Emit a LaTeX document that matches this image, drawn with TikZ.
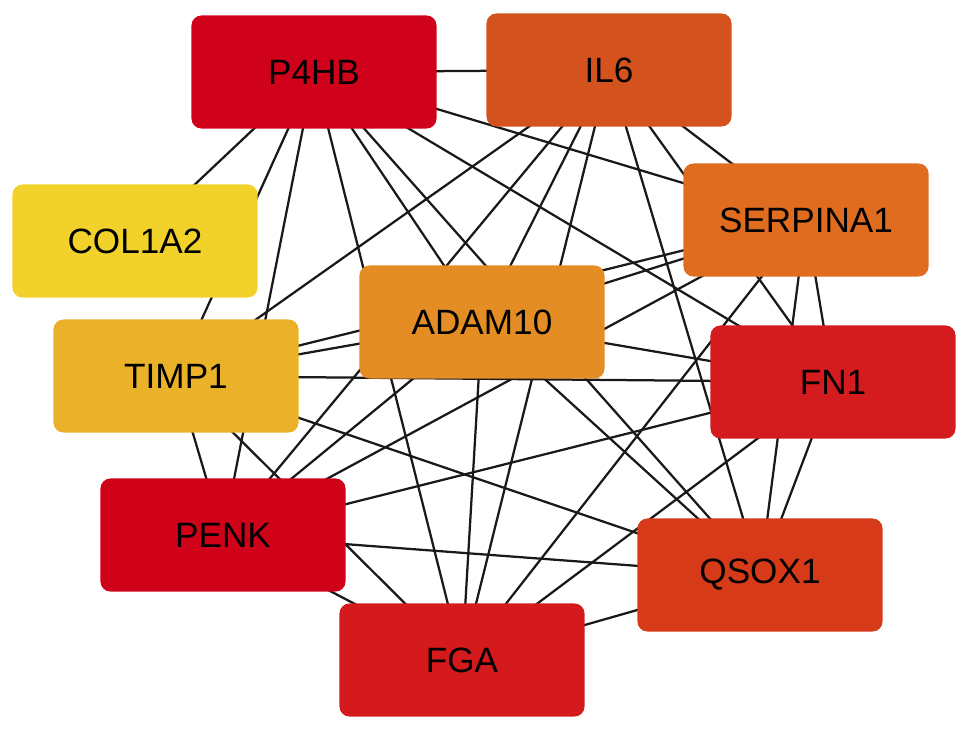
\documentclass[tikz,border=0pt]{standalone}
\usepackage{fontspec}
\setmainfont{Liberation Sans}
\usetikzlibrary{backgrounds}
\definecolor{cpfourhb}{HTML}{D0021B}
\definecolor{cilsix}{HTML}{D4521E}
\definecolor{ccolone}{HTML}{F2D22A}
\definecolor{cserpina}{HTML}{E06C20}
\definecolor{cadam}{HTML}{E38D24}
\definecolor{ctimp}{HTML}{E9B228}
\definecolor{cfnone}{HTML}{D41C1E}
\definecolor{cpenk}{HTML}{D0021A}
\definecolor{cqsox}{HTML}{D63A18}
\definecolor{cfga}{HTML}{D41A1C}

\begin{document}
\begin{tikzpicture}[
          x=0.025cm, y=-0.025cm,
          gene/.style={rounded corners=0.25cm, minimum width=6.125cm, minimum height=2.825cm,
                       inner sep=0pt, text=black, font=\fontsize{25}{30}\selectfont},
          ln/.style={draw=black!90, line width=1.6pt}
        ]
        \useasboundingbox (0,0) rectangle (969,732);
        \node[gene, fill=cpfourhb] (p4hb) at (314,72) {P4HB};
        \node[gene, fill=cilsix] (il6) at (609,70) {IL6};
        \node[gene, fill=ccolone] (col1a2) at (135,241) {COL1A2};
        \node[gene, fill=cserpina] (serpina1) at (806,220) {SERPINA1};
        \node[gene, fill=cadam] (adam10) at (482,322) {ADAM10};
        \node[gene, fill=ctimp] (timp1) at (176,376) {TIMP1};
        \node[gene, fill=cfnone] (fn1) at (833,382) {FN1};
        \node[gene, fill=cpenk] (penk) at (223,535) {PENK};
        \node[gene, fill=cqsox] (qsox1) at (760,575) {QSOX1};
        \node[gene, fill=cfga] (fga) at (462,660) {FGA};
        % interactions, behind the boxes
        \begin{scope}[on background layer]
          \foreach \a/\b in {p4hb/il6, p4hb/col1a2, p4hb/timp1, p4hb/penk, p4hb/fga,
                             p4hb/adam10, p4hb/qsox1, p4hb/fn1, p4hb/serpina1,
                             il6/timp1, il6/penk, il6/adam10, il6/fga, il6/qsox1, il6/fn1, il6/serpina1,
                             serpina1/adam10, serpina1/timp1, serpina1/penk, serpina1/fga,
                             serpina1/fn1, serpina1/qsox1,
                             adam10/timp1, adam10/penk, adam10/fn1, adam10/qsox1, adam10/fga,
                             timp1/fn1, timp1/penk, timp1/fga, timp1/qsox1,
                             penk/fn1, penk/qsox1, penk/fga,
                             fn1/fga, fn1/qsox1, qsox1/fga}
            \draw[ln] (\a.center) -- (\b.center);
        \end{scope}
      \end{tikzpicture}
\end{document}
